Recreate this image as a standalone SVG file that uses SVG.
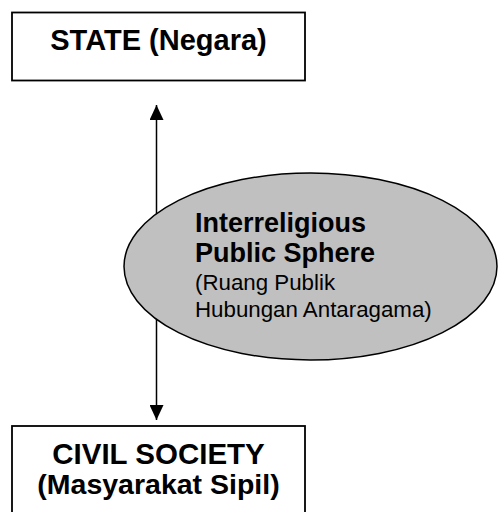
<svg xmlns="http://www.w3.org/2000/svg" width="498" height="512" viewBox="0 0 498 512">
  <style>
    .box { fill: #ffffff; stroke: #000000; stroke-width: 1.8; }
    .label { font-family: "Liberation Sans", Arial, sans-serif; fill: #000000; }
    .bold { font-weight: bold; }
    .link { stroke: #000000; stroke-width: 1.5; fill: none; }
    .sphere { fill: #c0c0c0; stroke: #000000; stroke-width: 1.5; }
  </style>
  <defs>
    <marker id="head" viewBox="0 0 15 14" refX="15" refY="7" markerWidth="15" markerHeight="14" markerUnits="userSpaceOnUse" orient="auto-start-reverse">
      <path d="M0,0 L15,7 L0,14 Z" fill="#000000"/>
    </marker>
  </defs>
  <rect width="498" height="512" fill="#ffffff"/>

  <!-- two-way link between state and civil society -->
  <g id="connectors">
    <line class="link" x1="156.5" y1="105" x2="156.5" y2="420" marker-start="url(#head)" marker-end="url(#head)"/>
  </g>

  <g id="state">
    <rect class="box" x="12" y="12.5" width="293" height="68"/>
    <text class="label bold" x="158.5" y="50" font-size="29" text-anchor="middle">STATE (Negara)</text>
  </g>

  <g id="public-sphere">
    <ellipse class="sphere" cx="310.5" cy="266.5" rx="186.5" ry="93.5"/>
    <text class="label bold" x="195" y="231.5" font-size="27">Interreligious</text>
    <text class="label bold" x="195" y="261.5" font-size="27">Public Sphere</text>
    <text class="label" x="195" y="290" font-size="22.3">(Ruang Publik</text>
    <text class="label" x="195" y="317" font-size="22.3">Hubungan Antaragama)</text>
  </g>

  <g id="civil-society">
    <rect class="box" x="12" y="426" width="293" height="100"/>
    <text class="label bold" x="158.5" y="463.5" font-size="29.5" text-anchor="middle">CIVIL SOCIETY</text>
    <text class="label bold" x="158.5" y="493.5" font-size="28.5" text-anchor="middle">(Masyarakat Sipil)</text>
  </g>
</svg>
